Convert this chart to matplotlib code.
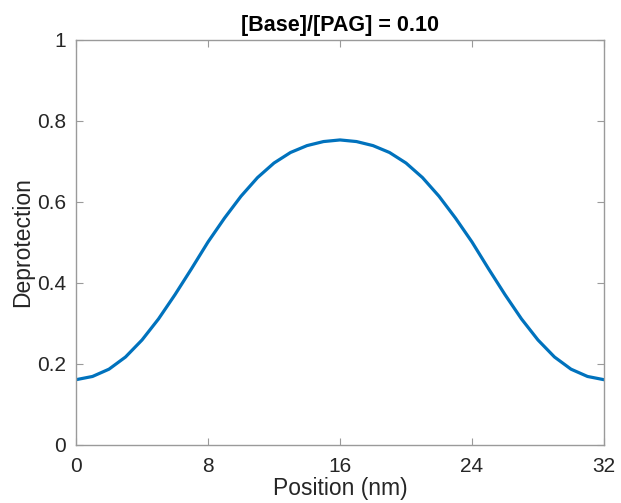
import matplotlib
matplotlib.use("Agg")
import matplotlib.pyplot as plt

# values, one per nm
position = list(range(0, 33))
deprotection = [0.160, 0.168, 0.186, 0.216, 0.258, 0.310, 0.370, 0.434, 0.500,
                0.559, 0.613, 0.659, 0.695, 0.721, 0.738, 0.748, 0.752,
                0.748, 0.738, 0.721, 0.695, 0.659, 0.613, 0.559, 0.500,
                0.434, 0.370, 0.310, 0.258, 0.216, 0.186, 0.168, 0.160]
x_ticks = [0, 8, 16, 24, 32]
y_ticks = [0, 0.2, 0.4, 0.6, 0.8, 1]
y_tick_labels = ["0", "0.2", "0.4", "0.6", "0.8", "1"]
title = "[Base]/[PAG] = 0.10"

plt.rcParams['font.family'] = ['Liberation Sans', 'DejaVu Sans']

fig = plt.figure(figsize=(6.21, 5.03), dpi=100)
ax = fig.add_axes([76 / 621, 1 - 444.5 / 503, 528 / 621, 405 / 503])

ax.plot(position, deprotection, color='#0072BD', linewidth=2.3,
        solid_joinstyle='round')

ax.set_xlim(0, 32)
ax.set_ylim(0, 1)
ax.set_xticks(x_ticks)
ax.set_yticks(y_ticks)
ax.set_yticklabels(y_tick_labels)

text_col = '#262626'
for s in ax.spines.values():
    s.set_color('#9a9a9a')
    s.set_linewidth(1.0)
ax.tick_params(direction='in', length=5, width=0.8, color='#9a9a9a',
               labelsize=15, labelcolor=text_col, top=True, right=True)
ax.tick_params(axis='x', pad=9)
ax.tick_params(axis='y', pad=7)

ax.set_xlabel("Position (nm)", fontsize=16.5, color=text_col, labelpad=1)
ax.set_ylabel("Deprotection", fontsize=16.5, color=text_col, labelpad=2)
ax.set_title(title, fontsize=15.5, fontweight='bold', color='black', pad=6)

fig.savefig("out.png", dpi=100, facecolor='white')
